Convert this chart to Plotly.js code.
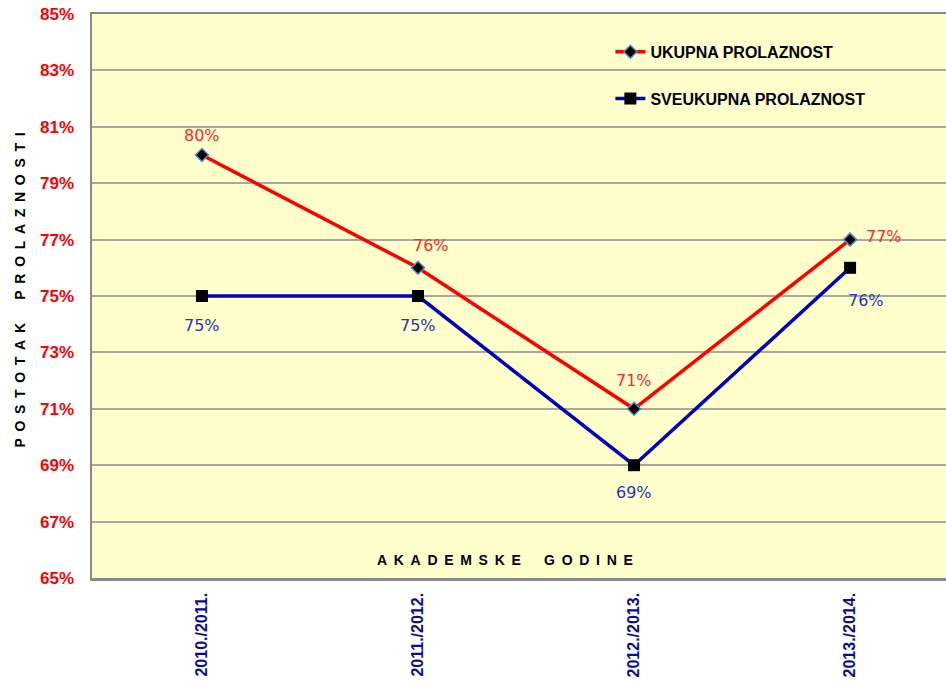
<!DOCTYPE html>
<html>
<head>
<meta charset="utf-8">
<script src="https://cdn.plot.ly/plotly-3.0.1.min.js"></script>
<style>html,body{margin:0;padding:0;background:#fff;}#chart{width:946px;height:683px;}</style>
</head>
<body>
<div id="chart"></div>
<script>
const years = ['2010./2011.', '2011./2012.', '2012./2013.', '2013./2014.'];
const ukupna = [80, 76, 71, 77];
const sveukupna = [75, 75, 69, 76];
const yTicks = [65, 67, 69, 71, 73, 75, 77, 79, 81, 83, 85];
const yTickText = yTicks.map(v => v + '%');

// label offsets (pixels) for the value labels
const ukupnaShift = [[0, 20], [13, 22], [0, 28], [34, 3]];
const sveukupnaShift = [[0, -29], [0, -29], [0, -27], [16, -33]];

const traces = [
  {
    x: years, y: ukupna, name: 'UKUPNA PROLAZNOST', type: 'scatter',
    mode: 'lines+markers', legendgroup: 'a',
    line: {color: '#ff0000', width: 3.5},
    marker: {symbol: 'diamond', size: 10, color: '#000000', line: {color: '#4a8cc8', width: 1.5}}
  },
  {
    x: years, y: sveukupna, name: 'SVEUKUPNA PROLAZNOST', type: 'scatter',
    mode: 'lines+markers', legendgroup: 'b',
    line: {color: '#0000c0', width: 3.5},
    marker: {symbol: 'square', size: 12, color: '#000000'}
  }
];

const sp = s => s.split(' ').map(w => w.split('').join('\u00A0\u2009')).join('\u00A0\u00A0\u00A0\u00A0\u00A0\u00A0');

const annotations = [];
ukupna.forEach((v, i) => annotations.push({
  x: years[i], y: v, xref: 'x', yref: 'y', text: v + '%', showarrow: false,
  xshift: ukupnaShift[i][0], yshift: ukupnaShift[i][1],
  font: {family: 'DejaVu Sans', size: 16, color: '#ff2a2a'}
}));
sveukupna.forEach((v, i) => annotations.push({
  x: years[i], y: v, xref: 'x', yref: 'y', text: v + '%', showarrow: false,
  xshift: sveukupnaShift[i][0], yshift: sveukupnaShift[i][1],
  font: {family: 'DejaVu Sans', size: 16, color: '#3030c0'}
}));
annotations.push({
  text: sp('AKADEMSKE GODINE'), xref: 'paper', yref: 'paper',
  x: 0.484, y: 0.032, showarrow: false, xanchor: 'center', yanchor: 'middle',
  font: {family: 'Liberation Sans, Arial', size: 14, color: '#000000', weight: 'bold'}
});
annotations.push({
  text: sp('POSTOTAK PROLAZNOSTI'), xref: 'paper', yref: 'paper',
  x: -0.084, y: 0.51, showarrow: false, textangle: -90, xanchor: 'center', yanchor: 'middle',
  font: {family: 'Liberation Sans, Arial', size: 14, color: '#000000', weight: 'bold'}
});

const layout = {
  width: 946, height: 683,
  margin: {l: 92, r: 0, t: 14, b: 105},
  paper_bgcolor: '#ffffff',
  plot_bgcolor: '#ffffcc',
  showlegend: true,
  legend: {
    x: 0.607, xanchor: 'left', y: 0.963, yanchor: 'top',
    bgcolor: 'rgba(0,0,0,0)', traceorder: 'grouped', tracegroupgap: 23,
    font: {family: 'Liberation Sans, Arial', size: 16, color: '#000000', weight: 'bold'}
  },
  xaxis: {
    type: 'category', range: [-0.509, 3.444],
    tickangle: -90, showgrid: false,
    showline: true, mirror: true, linecolor: '#888888', linewidth: 2.5,
    ticks: '', ticklabelstandoff: 6,
    tickfont: {family: 'Liberation Sans, Arial', size: 16, color: '#0a0a9a', weight: 'bold'}
  },
  yaxis: {
    range: [65, 85], tickvals: yTicks, ticktext: yTickText,
    showgrid: true, gridcolor: '#a8a8a0', gridwidth: 2,
    showline: true, mirror: true, linecolor: '#888888', linewidth: 2.5,
    zeroline: false, ticks: '', ticklabelstandoff: 12,
    tickfont: {family: 'Liberation Sans, Arial', size: 17, color: '#ff0000', weight: 'bold'}
  },
  annotations: annotations
};

Plotly.newPlot('chart', traces, layout, {displayModeBar: false, staticPlot: true});
</script>
</body>
</html>
